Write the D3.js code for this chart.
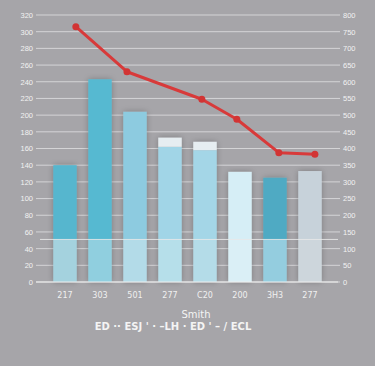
<!DOCTYPE html>
<html><head><meta charset="utf-8">
<script src="https://cdn.jsdelivr.net/npm/d3@7"></script>
<style>
html,body{margin:0;padding:0;background:#a6a5a9;}
svg{display:block;font-family:"DejaVu Sans",sans-serif;}
</style></head><body>
<svg id="c" width="375" height="366"></svg>
<script>
const categories = ["217","303","501","277","C20","200","3H3","277"];
const barTotal   = [140, 243, 204, 173, 168, 132, 125, 133];
const capSize    = [0, 0, 0, 11, 10, 0, 0, 0];
const barBase    = [51, 51, 51, 51, 51, 51, 51, 51];
const topColors  = ["#56b6ce","#56b9d1","#8dcbe0","#a1d5e7","#a4d6e7","#d6eef6","#4faac3","#c7d2da"];
const baseColors = ["#a4d2de","#90cfdf","#b3dbe8","#b6dfea","#b4dce8","#daeff6","#94cddf","#cdd6dc"];
const capColor = "#e6edf1";
const linePos    = [0.31, 1.77, 3.91, 4.91, 6.11, 7.14];
const lineValues = [306, 252, 219, 195, 155, 153];
const leftTicks  = d3.range(0, 321, 20);
const rightTicks = d3.range(0, 801, 50);
const titleText = "Smith";
const legendText = "ED ·· ESJ ' · –LH · ED ' – / ECL";

const svg = d3.select("#c");
const y = d3.scaleLinear().domain([0, 320]).range([282, 15]);
const yR = d3.scaleLinear().domain([0, 800]).range([282, 15]);
const x = d3.scaleBand().domain(d3.range(categories.length)).range([47.5, 327.5]).paddingInner(0.33).paddingOuter(0.165);
const xl = d3.scaleLinear().domain([0, 7]).range([x(0)+x.bandwidth()/2, x(7)+x.bandwidth()/2]);

const defs = svg.append("defs");
const f = defs.append("filter").attr("id","sh").attr("x","-30%").attr("y","-10%").attr("width","160%").attr("height","120%");
f.append("feGaussianBlur").attr("in","SourceAlpha").attr("stdDeviation",3).attr("result","b");
f.append("feOffset").attr("in","b").attr("dx",0).attr("dy",0).attr("result","o");
f.append("feComponentTransfer").attr("in","o").attr("result","o2").append("feFuncA").attr("type","linear").attr("slope",0.25);
const m = f.append("feMerge"); m.append("feMergeNode").attr("in","o2"); m.append("feMergeNode").attr("in","SourceGraphic");

// left axis with gridlines
const gL = svg.append("g").attr("transform","translate(36,0)")
  .call(d3.axisLeft(y).tickValues(leftTicks).tickSize(0).tickPadding(3).tickFormat(d3.format("d")));
gL.select(".domain").remove();
gL.selectAll("text").attr("fill","#f2f2f2").attr("font-size",7.5);
svg.append("g").selectAll("line").data(leftTicks).join("line")
  .attr("x1",36).attr("x2",340).attr("y1",d=>y(d)).attr("y2",d=>y(d))
  .attr("stroke","#e4e4e6").attr("stroke-width",1).attr("opacity",0.75);

const gR = svg.append("g").attr("transform","translate(340,0)")
  .call(d3.axisRight(yR).tickValues(rightTicks).tickSize(0).tickPadding(3).tickFormat(d3.format("d")));
gR.select(".domain").remove();
gR.selectAll("text").attr("fill","#f2f2f2").attr("font-size",7.5);

// bars
const bars = svg.append("g").attr("filter","url(#sh)");
const idx = d3.range(categories.length);
bars.selectAll(".base").data(idx).join("rect")
  .attr("x",i=>x(i)).attr("width",x.bandwidth())
  .attr("y",i=>y(barBase[i])).attr("height",i=>y(0)-y(barBase[i]))
  .attr("fill",i=>baseColors[i]);
bars.selectAll(".top").data(idx).join("rect")
  .attr("x",i=>x(i)).attr("width",x.bandwidth())
  .attr("y",i=>y(barTotal[i]-capSize[i])).attr("height",i=>y(barBase[i])-y(barTotal[i]-capSize[i]))
  .attr("fill",i=>topColors[i]);
bars.selectAll(".cap").data(idx.filter(i=>capSize[i]>0)).join("rect")
  .attr("x",i=>x(i)).attr("width",x.bandwidth())
  .attr("y",i=>y(barTotal[i])).attr("height",i=>y(barTotal[i]-capSize[i])-y(barTotal[i]))
  .attr("fill",capColor);

// baseline divider line
svg.append("line").attr("x1",40).attr("x2",338).attr("y1",y(barBase[0])).attr("y2",y(barBase[0]))
  .attr("stroke","#eeeeee").attr("stroke-width",1).attr("opacity",0.8);
svg.append("line").attr("x1",36).attr("x2",338).attr("y1",y(0)).attr("y2",y(0))
  .attr("stroke","#eeeeee").attr("stroke-width",1);

// line
const pts = linePos.map((p,i)=>[xl(p), y(lineValues[i])]);
svg.append("path").datum(pts).attr("d",d3.line()).attr("fill","none")
  .attr("stroke","#d83a3a").attr("stroke-width",3).attr("stroke-linejoin","round");
svg.selectAll(".dot").data(pts).join("circle").attr("cx",d=>d[0]).attr("cy",d=>d[1]).attr("r",3.5).attr("fill","#d23434");

// x labels
svg.append("g").selectAll("text").data(idx).join("text")
  .attr("x",i=>x(i)+x.bandwidth()/2).attr("y",298).attr("text-anchor","middle")
  .attr("fill","#f0f0f0").attr("font-size",8).text(i=>categories[i]);

svg.append("text").attr("x",196).attr("y",318).attr("text-anchor","middle")
  .attr("fill","#f4f4f4").attr("font-size",10).text(titleText);
svg.append("text").attr("x",173).attr("y",330).attr("text-anchor","middle")
  .attr("fill","#f4f4f4").attr("font-size",10).attr("font-weight","bold").text(legendText);
</script>
</body></html>
